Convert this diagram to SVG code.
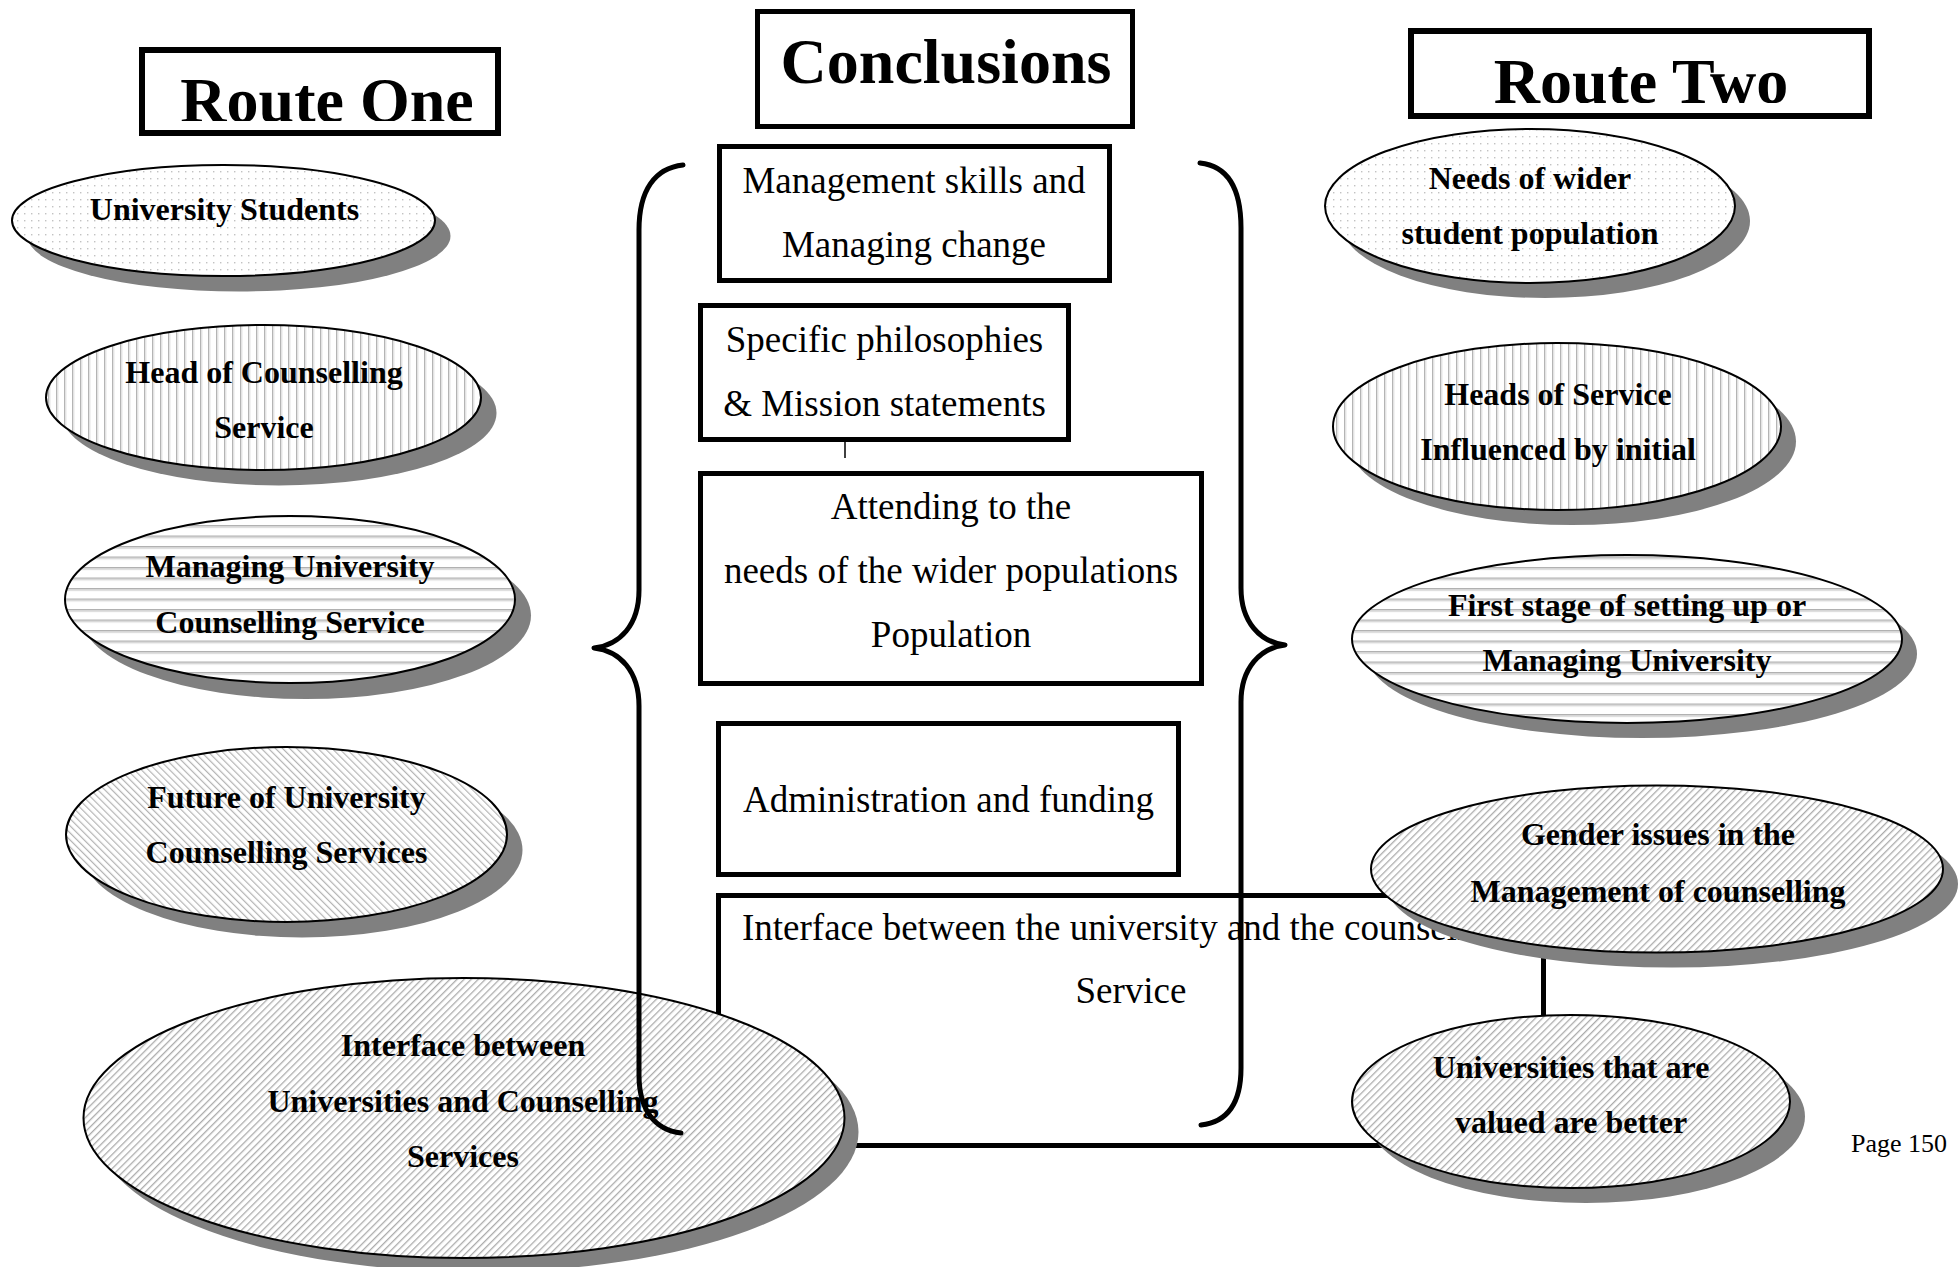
<svg xmlns="http://www.w3.org/2000/svg" width="1959" height="1267" viewBox="0 0 1959 1267">
  <style>
    .title { font-family: "Liberation Serif", "Times New Roman", serif; font-weight: bold; font-size: 64px; fill: #000; }
    .box { fill: #fff; stroke: #000; stroke-width: 5; }
    .tbox { fill: #fff; stroke: #000; stroke-width: 6; }
    .btxt { font-family: "Liberation Serif", "Times New Roman", serif; font-size: 37px; fill: #000; }
    .etxt { font-family: "Liberation Serif", "Times New Roman", serif; font-weight: bold; font-size: 32px; fill: #000; text-anchor: middle; }
    .mid { text-anchor: middle; }
    .shadow { fill: #808080; }
    .oval { stroke: #000; stroke-width: 2; }
    .brace { fill: none; stroke: #000; stroke-width: 5; stroke-linecap: round; stroke-linejoin: round; }
    .stub { stroke: #000; stroke-width: 1.5; }
    .page { font-family: "Liberation Serif", "Times New Roman", serif; font-size: 26px; fill: #000; }
  </style>
  <defs>
    <!-- fill textures for the ovals -->
    <pattern id="dots" width="7" height="7" patternUnits="userSpaceOnUse">
      <rect width="7" height="7" fill="#fff"/>
      <rect x="3" y="3" width="1.4" height="1.4" fill="#c2c2c2"/>
    </pattern>
    <pattern id="vstripe" width="8" height="8" patternUnits="userSpaceOnUse">
      <rect width="8" height="8" fill="#fff"/>
      <rect x="0" y="0" width="1.2" height="8" fill="#b4b4b4"/>
      <rect x="1.2" y="0" width="1.2" height="8" fill="#e0e0e0"/>
    </pattern>
    <pattern id="hstripe" width="10.5" height="10.5" patternUnits="userSpaceOnUse">
      <rect width="10.5" height="10.5" fill="#fff"/>
      <rect x="0" y="0" width="10.5" height="1.5" fill="#b0b0b0"/>
      <rect x="0" y="1.5" width="10.5" height="1.5" fill="#dcdcdc"/>
    </pattern>
    <pattern id="hatchBack" width="5" height="5" patternUnits="userSpaceOnUse" patternTransform="rotate(-45)">
      <rect width="5" height="5" fill="#fff"/>
      <rect x="0" y="0" width="1.2" height="5" fill="#b4b4b4"/>
    </pattern>
    <pattern id="hatchFwd" width="5" height="5" patternUnits="userSpaceOnUse" patternTransform="rotate(45)">
      <rect width="5" height="5" fill="#fff"/>
      <rect x="0" y="0" width="1.3" height="5" fill="#acacac"/>
    </pattern>
    <clipPath id="clipR1"><rect x="142" y="50" width="356" height="71"/></clipPath>
    <clipPath id="clipR2"><rect x="1411" y="31" width="458" height="72"/></clipPath>
  </defs>

  <rect width="1959" height="1267" fill="#fff"/>

  <!-- column headings -->
  <g id="route-one">
    <rect class="tbox" x="142" y="50" width="356" height="83"/>
    <text class="title mid" x="327" y="122" clip-path="url(#clipR1)">Route One</text>
  </g>
  <g id="conclusions">
    <rect class="box" x="757.5" y="11.5" width="375" height="115"/>
    <text class="title mid" x="946" y="83">Conclusions</text>
  </g>
  <g id="route-two">
    <rect class="tbox" x="1411" y="31" width="458" height="85"/>
    <text class="title mid" x="1641" y="103" clip-path="url(#clipR2)">Route Two</text>
  </g>

  <!-- conclusion boxes -->
  <g id="management">
    <rect class="box" x="719.5" y="146.5" width="390" height="134"/>
    <text class="btxt mid" x="914" y="193">Management skills and</text>
    <text class="btxt mid" x="914" y="257">Managing change</text>
  </g>
  <g id="philosophies">
    <rect class="box" x="700.5" y="305.5" width="368" height="134"/>
    <text class="btxt mid" x="884.5" y="352">Specific philosophies</text>
    <text class="btxt mid" x="884.5" y="416">&amp; Mission statements</text>
  </g>
  <g id="attending">
    <rect class="box" x="700.5" y="473.5" width="501" height="210"/>
    <text class="btxt mid" x="951" y="519">Attending to the</text>
    <text class="btxt mid" x="951" y="583">needs of the wider populations</text>
    <text class="btxt mid" x="951" y="647">Population</text>
  </g>
  <g id="administration">
    <rect class="box" x="718.5" y="723.5" width="460" height="151"/>
    <text class="btxt mid" x="948.5" y="812">Administration and funding</text>
  </g>
  <g id="interface-box">
    <rect class="box" x="718.5" y="895.5" width="825" height="250"/>
    <text class="btxt" x="742" y="940">Interface between the university and the counselling</text>
    <text class="btxt mid" x="1131" y="1003">Service</text>
  </g>

  <!-- Route One ovals -->
  <g id="university-students">
    <ellipse class="shadow" cx="239" cy="236" rx="211.5" ry="55.5"/>
    <ellipse class="oval" fill="url(#dots)" cx="223.5" cy="220.5" rx="211.5" ry="55.5"/>
    <text class="etxt" x="224.5" y="220">University Students</text>
  </g>
  <g id="head-of-counselling">
    <ellipse class="shadow" cx="279" cy="413" rx="217.5" ry="72.5"/>
    <ellipse class="oval" fill="url(#vstripe)" cx="263.5" cy="397.5" rx="217.5" ry="72.5"/>
    <text class="etxt" x="264" y="383">Head of Counselling</text>
    <text class="etxt" x="264" y="438">Service</text>
  </g>
  <g id="managing-service">
    <ellipse class="shadow" cx="306" cy="615.5" rx="225" ry="83.5"/>
    <ellipse class="oval" fill="url(#hstripe)" cx="290" cy="599.5" rx="225" ry="83.5"/>
    <text class="etxt" x="290" y="577">Managing University</text>
    <text class="etxt" x="290" y="633">Counselling Service</text>
  </g>
  <g id="future-services">
    <ellipse class="shadow" cx="302" cy="850" rx="220.5" ry="87.5"/>
    <ellipse class="oval" fill="url(#hatchBack)" cx="286.5" cy="834.5" rx="220.5" ry="87.5"/>
    <text class="etxt" x="286.5" y="808">Future of University</text>
    <text class="etxt" x="286.5" y="863">Counselling Services</text>
  </g>
  <g id="interface-universities">
    <ellipse class="shadow" cx="478" cy="1132" rx="380.5" ry="140"/>
    <ellipse class="oval" fill="url(#hatchFwd)" cx="464" cy="1118" rx="380.5" ry="140"/>
    <text class="etxt" x="463" y="1056">Interface between</text>
    <text class="etxt" x="463" y="1112">Universities and Counselling</text>
    <text class="etxt" x="463" y="1167">Services</text>
  </g>

  <!-- Route Two ovals -->
  <g id="student-needs">
    <ellipse class="shadow" cx="1545" cy="221" rx="205" ry="77"/>
    <ellipse class="oval" fill="url(#dots)" cx="1530" cy="206" rx="205" ry="77"/>
    <text class="etxt" x="1530" y="189">Needs of wider</text>
    <text class="etxt" x="1530" y="244">student population</text>
  </g>
  <g id="heads-of-service">
    <ellipse class="shadow" cx="1572" cy="441.5" rx="224" ry="83.5"/>
    <ellipse class="oval" fill="url(#vstripe)" cx="1557" cy="426.5" rx="224" ry="83.5"/>
    <text class="etxt" x="1558" y="405">Heads of Service</text>
    <text class="etxt" x="1558" y="460">Influenced by initial</text>
  </g>
  <g id="first-stage">
    <ellipse class="shadow" cx="1642" cy="654" rx="275" ry="84"/>
    <ellipse class="oval" fill="url(#hstripe)" cx="1627" cy="639" rx="275" ry="84"/>
    <text class="etxt" x="1627" y="616">First stage of setting up or</text>
    <text class="etxt" x="1627" y="671">Managing University</text>
  </g>
  <g id="gender-issues">
    <ellipse class="shadow" cx="1672" cy="884" rx="286" ry="83.5"/>
    <ellipse class="oval" fill="url(#hatchFwd)" cx="1657" cy="869" rx="286" ry="83.5"/>
    <text class="etxt" x="1658" y="845">Gender issues in the</text>
    <text class="etxt" x="1658" y="902">Management of counselling</text>
  </g>
  <g id="valued-universities">
    <ellipse class="shadow" cx="1586" cy="1116.5" rx="219" ry="86.5"/>
    <ellipse class="oval" fill="url(#hatchFwd)" cx="1571" cy="1101.5" rx="219" ry="86.5"/>
    <text class="etxt" x="1571" y="1078">Universities that are</text>
    <text class="etxt" x="1571" y="1133">valued are better</text>
  </g>

  <!-- braces and link stub -->
  <g id="connectors">
    <line class="stub" x1="845" y1="441" x2="845" y2="458"/>
    <path class="brace" d="M 683 165 C 655 168, 639 190, 639 230 L 639 590 C 639 625, 620 645, 594 648 C 620 651, 639 671, 639 706 L 639 1075 C 639 1110, 655 1130, 681 1133"/>
    <path class="brace" d="M 1200 163 C 1228 166, 1241 188, 1241 228 L 1241 588 C 1241 622, 1260 642, 1285 645 C 1260 648, 1241 668, 1241 702 L 1241 1068 C 1241 1102, 1228 1122, 1201 1125"/>
  </g>

  <text class="page" x="1851" y="1152">Page 150</text>
</svg>
